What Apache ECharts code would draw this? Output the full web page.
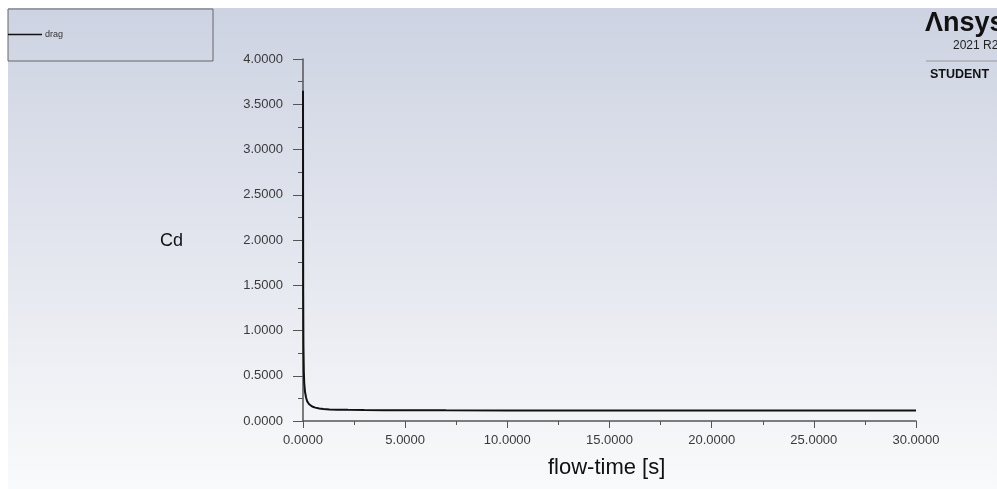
<!DOCTYPE html>
<html>
<head>
<meta charset="utf-8">
<script src="https://cdn.jsdelivr.net/npm/echarts@6/dist/echarts.min.js"></script>
<style>
  html, body { margin: 0; padding: 0; background: #ffffff; }
  #chart { width: 997px; height: 489px; }
</style>
</head>
<body>
<div id="chart"></div>
<script>
// flow-time [s] and drag coefficient
const flowTime = [0, 0.005, 0.01, 0.02, 0.04, 0.06, 0.1, 0.15, 0.2, 0.3, 0.45, 0.6, 0.8, 1.0, 1.3, 1.7, 2.2, 3, 4, 5, 7, 10, 15, 20, 25, 30];
const cdValues = [3.65, 2.2, 1.4, 0.85, 0.55, 0.42, 0.32, 0.26, 0.22, 0.185, 0.16, 0.148, 0.138, 0.133, 0.128, 0.125, 0.123, 0.121, 0.12, 0.119, 0.118, 0.117, 0.116, 0.116, 0.115, 0.115];
const seriesName = "drag";
const xTitle = "flow-time [s]";
const yTitle = "Cd";

const chart = echarts.init(document.getElementById("chart"), null, { renderer: "canvas" });
const fmt = (v) => Number(v).toFixed(4);

const option = {
  animation: false,
  textStyle: { fontFamily: "Liberation Sans, Arial, sans-serif", color: "#333" },
  grid: { left: 303, right: 81, top: 59, bottom: 68 },
  graphic: [
    {
      type: "rect", z: -10, silent: true,
      shape: { x: 8, y: 8, width: 989, height: 481 },
      style: {
        fill: new echarts.graphic.LinearGradient(0, 0, 0, 1, [
          { offset: 0, color: "#cdd3e2" },
          { offset: 0.5, color: "#e3e6ee" },
          { offset: 1, color: "#f9fafb" },
        ]),
      },
    },
    {
      // legend frame
      type: "rect", z: 1, silent: true,
      shape: { x: 8, y: 9, width: 205, height: 52 },
      style: { fill: "none", stroke: "#666", lineWidth: 1 },
    },
    { type: "text", left: 925, top: 10, z: 5, style: { text: "Λnsys", font: "bold 27px Liberation Sans, Arial", fill: "#111" } },
    { type: "text", left: 953, top: 40, z: 5, style: { text: "2021 R2", font: "12px Liberation Sans, Arial", fill: "#222" } },
    { type: "line", z: 5, shape: { x1: 926, y1: 61, x2: 997, y2: 61 }, style: { stroke: "#999", lineWidth: 1 } },
    { type: "text", left: 930, top: 68, z: 5, style: { text: "STUDENT", font: "bold 12.5px Liberation Sans, Arial", fill: "#111" } },
    { type: "text", left: 160, top: 232, z: 5, style: { text: yTitle, font: "18px Liberation Sans, Arial", fill: "#111" } },
    { type: "text", left: 548, top: 457, z: 5, style: { text: xTitle, font: "22px Liberation Sans, Arial", fill: "#111" } },
  ],
  legend: {
    left: 8, top: 30,
    icon: "rect",
    itemWidth: 34, itemHeight: 1.5,
    itemGap: 3,
    padding: 0,
    data: [seriesName],
    textStyle: { fontSize: 9, color: "#333", padding: [0, 0, 0, -2] },
  },
  xAxis: {
    type: "value",
    min: 0, max: 30, interval: 5,
    axisLine: { onZero: false, lineStyle: { color: "#555", width: 1.5 } },
    axisTick: { show: true, length: 7, lineStyle: { color: "#555" } },
    minorTick: { show: true, splitNumber: 2, length: 4, lineStyle: { color: "#555" } },
    splitLine: { show: false },
    axisLabel: { margin: 13, fontSize: 13, color: "#3a3a3a", formatter: fmt },
  },
  yAxis: {
    type: "value",
    min: 0, max: 4, interval: 0.5,
    axisLine: { show: true, onZero: false, lineStyle: { color: "#555", width: 1.5 } },
    axisTick: { show: true, length: 10, lineStyle: { color: "#555" } },
    minorTick: { show: true, splitNumber: 2, length: 5, lineStyle: { color: "#555" } },
    splitLine: { show: false },
    axisLabel: { margin: 20, fontSize: 13, color: "#3a3a3a", formatter: fmt },
  },
  series: [
    {
      name: seriesName,
      type: "line",
      showSymbol: false,
      smooth: false,
      lineStyle: { color: "#111", width: 2 },
      itemStyle: { color: "#111" },
      data: flowTime.map((t, i) => [t, cdValues[i]]),
    },
  ],
};

chart.setOption(option);
</script>
</body>
</html>
